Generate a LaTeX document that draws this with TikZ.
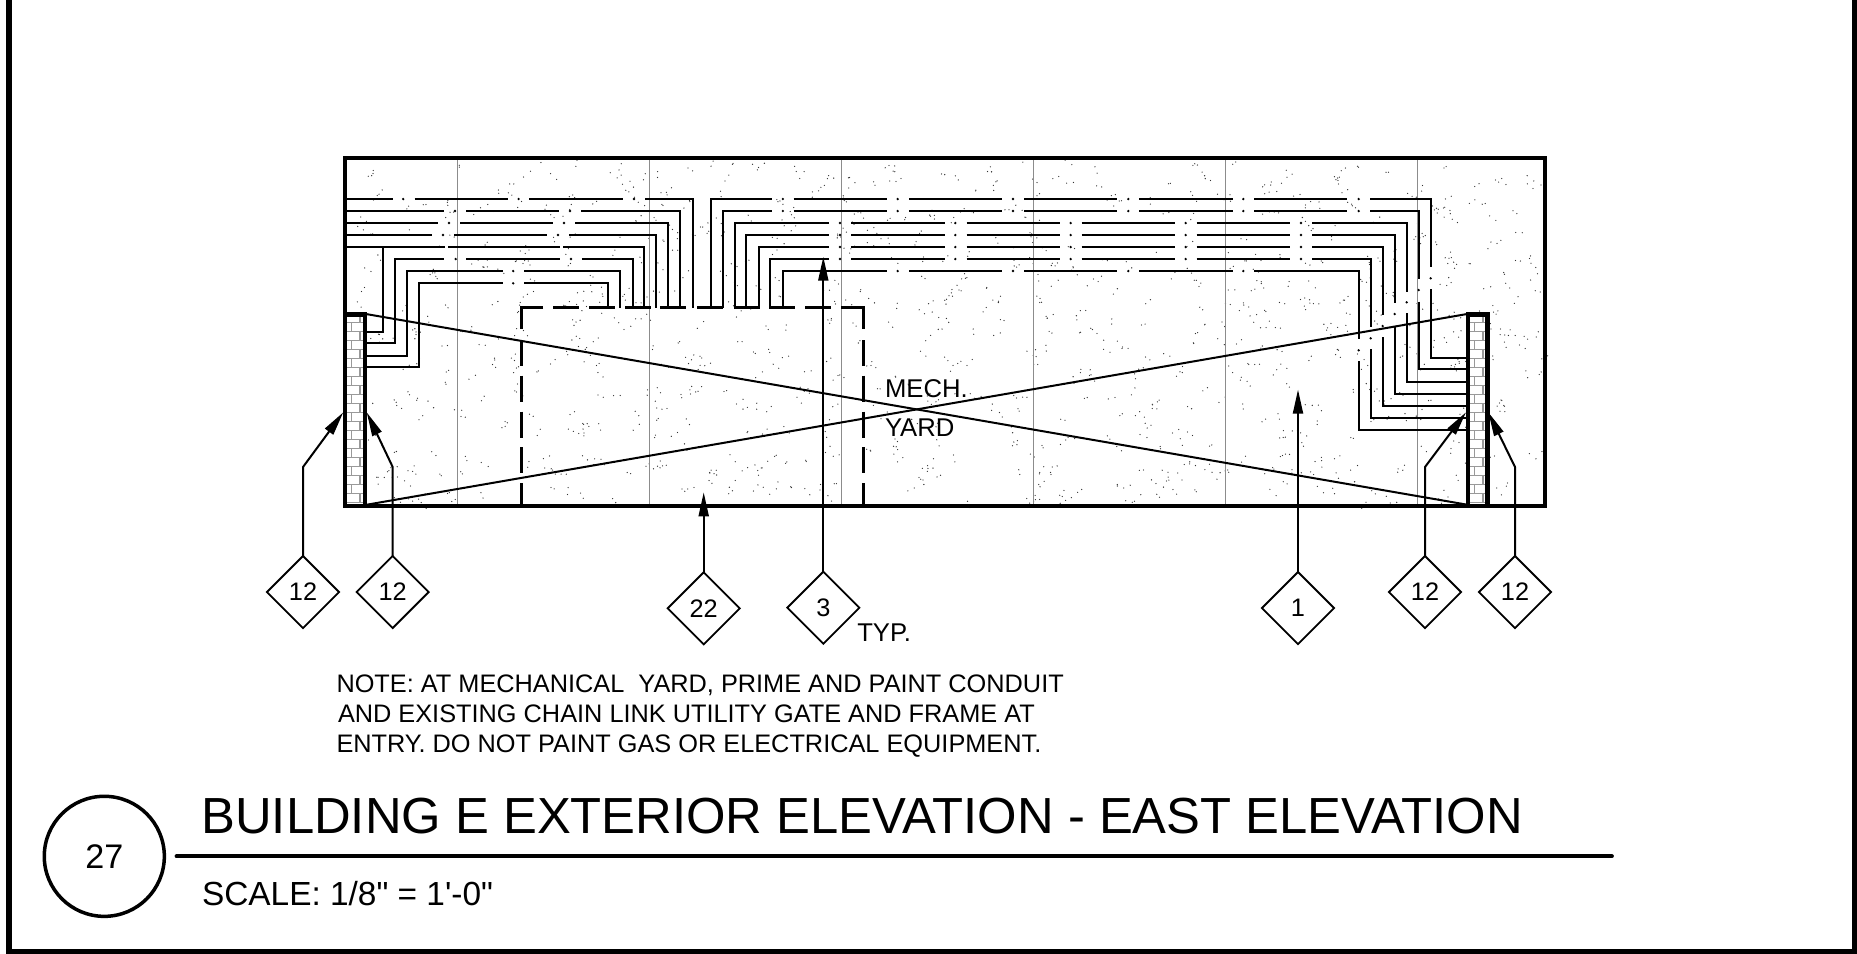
\documentclass[tikz,border=0pt]{standalone}
\usepackage{fontspec}
\setmainfont{Liberation Sans}[Ligatures=TeXOff]
\usetikzlibrary{arrows.meta}
\usetikzlibrary{shapes.geometric}
\tikzset{
  frameline/.style={line width=0.05cm},
  wallline/.style={line width=0.045cm},
  gridline/.style={line width=0.013cm,color=black!45},
  brickline/.style={line width=0.013cm,color=black!40},
  conduit/.style={line width=0.02cm},
  gateline/.style={line width=0.03cm},
  crossline/.style={line width=0.02cm},
  leader/.style={line width=0.02cm,-{Stealth[length=0.24cm,width=0.1cm,inset=0pt]}},
  tag/.style={draw,shape=diamond,aspect=1,line width=0.018cm,minimum width=0.72cm,minimum height=0.72cm,inner sep=0pt,outer sep=0pt,font=\fontsize{7.2}{8}\selectfont},
  label/.style={anchor=base west,inner sep=0pt,outer sep=0pt,font=\fontsize{7.3}{8}\selectfont},
  notetext/.style={anchor=base west,inner sep=0pt,outer sep=0pt,font=\fontsize{7.2}{8}\selectfont},
}
\begin{document}
\begin{tikzpicture}[x=0.01cm,y=-0.01cm]
  \useasboundingbox (0,0) rectangle (1857,953);

  % Drawing sheet frame, open at the top
  \draw [frameline] (9,0) -- (9,951.5) -- (1854.5,951.5) -- (1854.5,0);

  % Marking stucco speckle
  \pgfmathsetseed{2727}
  \foreach \i in {1,...,850} {
    \pgfmathsetmacro{\speckx}{350+rnd*1192}
    \pgfmathsetmacro{\specky}{162+rnd*341}
    \fill [black!80] (\speckx,\specky) circle (0.65);
    \fill [black!80] ({\speckx+14*rnd-7},{\specky+14*rnd-7}) circle (0.65);
  }

  % Drawing panel joints
  \foreach \jointx in {457.3,649.3,841.3,1033.3,1225.3,1417.3} {
    \draw [gridline] (\jointx,158) -- (\jointx,506);
  }

  % Drawing conduits from left pier to gate
  \draw [conduit] (345,199) -- (392.5,199) (414.6,199) -- (507.5,199) (529.3,199) -- (622.9,199) (645,199) -- (692.5,199) -- (692.5,307.7);
  \foreach \dotx in {403.2,518.6,634} \fill (\dotx,199) circle (1.3);
  \draw [conduit] (345,211) -- (444.3,211) (466,211) -- (559.3,211) (581,211) -- (680.4,211) -- (680.4,307.7);
  \foreach \dotx in {455,570} \fill (\dotx,211) circle (1.3);
  \draw [conduit] (345,223) -- (437.9,223) (460,223) -- (553.2,223) (575.4,223) -- (668.2,223) -- (668.2,307.7);
  \foreach \dotx in {449,564} \fill (\dotx,223) circle (1.3);
  \draw [conduit] (345,235) -- (431.8,235) (454,235) -- (547,235) (569,235) -- (656.4,235) -- (656.4,307.7);
  \foreach \dotx in {443,558} \fill (\dotx,235) circle (1.3);
  \draw [conduit] (345,247) -- (445.4,247) (448,247) -- (560.4,247) (563,247) -- (644.3,247) -- (644.3,307.7);
  \draw [conduit] (366,331.7) -- (383,331.7) -- (383,247);
  \draw [conduit] (366,343) -- (394.6,343) -- (394.6,259) -- (444.3,259) (466.4,259) -- (560.4,259) (581.8,259) -- (632.5,259) -- (632.5,307.7);
  \foreach \dotx in {455.7,571} \fill (\dotx,259) circle (1.3);
  \draw [conduit] (366,355.5) -- (407,355.5) -- (407,271) -- (502.5,271) (524,271) -- (620.4,271) -- (620.4,307.7);
  \fill (513.2,271) circle (1.3);
  \draw [conduit] (366,367) -- (418.6,367) -- (418.6,283.3) -- (502.5,283.3) (524,283.3) -- (608.2,283.3) -- (608.2,307.7);
  \fill (513.2,283.3) circle (1.3);

  % Drawing conduits from gate to right pier
  \draw [conduit] (710.7,307.7) -- (710.7,199) -- (772,199) (793.6,199) -- (887,199) (909,199) -- (1002.3,199) (1024,199) -- (1117.3,199) (1139.3,199) -- (1232.7,199) (1254.3,199) -- (1347.3,199) (1370,199) -- (1430.7,199) -- (1430.7,267.3) (1430.7,289.3) -- (1430.7,357.7) -- (1468,357.7);
  \foreach \dotx in {782.9,897.7,1013,1128.3,1243.3,1358.7} \fill (\dotx,199) circle (1.3);
  \fill (1430.7,278.3) circle (1.3);
  \draw [conduit] (722.5,307.7) -- (722.5,211) -- (772,211) (793.6,211) -- (887,211) (909,211) -- (1002.3,211) (1024,211) -- (1117.3,211) (1139.3,211) -- (1232.7,211) (1254.3,211) -- (1347.3,211) (1370,211) -- (1418.7,211) -- (1418.7,279.3) (1418.7,301.7) -- (1418.7,369.3) -- (1468,369.3);
  \foreach \dotx in {782.9,897.7,1013,1128.3,1243.3,1358.7} \fill (\dotx,211) circle (1.3);
  \fill (1418.7,290) circle (1.3);
  \draw [conduit] (734.6,307.7) -- (734.6,223) -- (829.3,223) (851,223) -- (944.7,223) (966.7,223) -- (1060,223) (1081.7,223) -- (1175,223) (1196.7,223) -- (1290,223) (1312,223) -- (1406.7,223) -- (1406.7,291.7) (1406.7,313.3) -- (1406.7,381.7) -- (1468,381.7);
  \foreach \dotx in {840,955.3,1070.7,1185.7,1301} \fill (\dotx,223) circle (1.3);
  \fill (1406.7,302.3) circle (1.3);
  \draw [conduit] (746.4,307.7) -- (746.4,235) -- (829.3,235) (851,235) -- (944.7,235) (966.7,235) -- (1060,235) (1081.7,235) -- (1175,235) (1196.7,235) -- (1290,235) (1312,235) -- (1394.7,235) -- (1394.7,303.3) (1394.7,325.7) -- (1394.7,393.7) -- (1468,393.7);
  \foreach \dotx in {840,955.3,1070.7,1185.7,1301} \fill (\dotx,235) circle (1.3);
  \fill (1394.7,314) circle (1.3);
  \draw [conduit] (758.6,307.7) -- (758.6,247) -- (829.3,247) (851,247) -- (944.7,247) (966.7,247) -- (1060,247) (1081.7,247) -- (1175,247) (1196.7,247) -- (1290,247) (1312,247) -- (1382.7,247) -- (1382.7,315) (1382.7,337.3) -- (1382.7,405.7) -- (1468,405.7);
  \foreach \dotx in {840,955.3,1070.7,1185.7,1301} \fill (\dotx,247) circle (1.3);
  \fill (1382.7,326) circle (1.3);
  \draw [conduit] (770.4,307.7) -- (770.4,259) -- (829.3,259) (851,259) -- (944.7,259) (966.7,259) -- (1060,259) (1081.7,259) -- (1175,259) (1196.7,259) -- (1290,259) (1312,259) -- (1370.7,259) -- (1370.7,327.3) (1370.7,349.3) -- (1370.7,417.7) -- (1468,417.7);
  \foreach \dotx in {840,955.3,1070.7,1185.7,1301} \fill (\dotx,259) circle (1.3);
  \fill (1370.7,338.3) circle (1.3);
  \draw [conduit] (782.9,307.7) -- (782.9,271) -- (887,271) (909,271) -- (1002.3,271) (1024,271) -- (1117.3,271) (1139.3,271) -- (1232.7,271) (1254.3,271) -- (1358.7,271) -- (1358.7,339) (1358.7,361.3) -- (1358.7,429.7) -- (1468,429.7);
  \foreach \dotx in {897.7,1013,1128.3,1243.3} \fill (\dotx,271) circle (1.3);
  \fill (1358.7,350.3) circle (1.3);

  % Drawing crossed lines
  \draw [crossline] (366,314) -- (1469,505);
  \draw [crossline] (365,505) -- (1467,314);

  % Drawing gate outline
  \draw [gateline] (543,307.7) -- (521,307.7) -- (521,329);
  \draw [gateline] (841.4,307.7) -- (863.3,307.7) -- (863.3,329);
  \foreach \gatex in {553,589,625,660,697,733.6,769,805} {
    \draw [gateline] (\gatex,307.7) -- ++(26,0);
  }
  \foreach \gatey in {340,375.5,411.5,447.3} {
    \draw [gateline] (521,\gatey) -- ++(0,26);
    \draw [gateline] (863.3,\gatey) -- ++(0,26);
  }
  \draw [gateline] (521,483.3) -- (521,506);
  \draw [gateline] (863.3,483.3) -- (863.3,506);

  % Drawing brick piers
  \foreach \pierx in {347,1470} {
    \fill [white] (\pierx,316) rectangle ++(16,189);
    \foreach \n in {0,...,20} {
      \pgfmathsetmacro{\brickx}{\pierx+(mod(\n,2)==0 ? 13 : 4.5)}
      \draw [brickline] (\pierx,{322.3+9*\n}) -- ++(16,0);
      \draw [brickline] (\brickx,{322.3+9*\n}) -- ++(0,-9);
    }
  }
  \draw [wallline] (345,506) -- (345,314.5) -- (365,314.5) -- (365,506);
  \draw [wallline] (1468,506) -- (1468,314.5) -- (1487.5,314.5) -- (1487.5,506);

  % Drawing elevation outline
  \draw [wallline] (345,158) rectangle (1545,506);

  % Marking gate label
  \node (mech) [label] at (885,397.3) {MECH.};
  \node (yard) [label] at (885,436.7) {YARD};

  % Marking callout tags
  \node (tagA) [tag] at (303,592) {12};
  \node (tagB) [tag] at (392.7,592) {12};
  \node (tagC) [tag] at (703.7,608.3) {22};
  \node (tagD) [tag] at (823.3,607.7) {3};
  \node (tagE) [tag] at (1298,608) {1};
  \node (tagF) [tag] at (1425,592) {12};
  \node (tagG) [tag] at (1515,592) {12};
  \node (typ) [label] at (857.3,641.7) {TYP.};

  % Drawing callout leaders
  \coordinate (kneeA) at (303,467);
  \coordinate (tipA) at (343.3,412.3);
  \coordinate (kneeB) at (392.7,467);
  \coordinate (tipB) at (366.7,412.3);
  \coordinate (tipC) at (703.7,492.3);
  \coordinate (tipD) at (823.3,256.7);
  \coordinate (tipE) at (1298,389.6);
  \coordinate (kneeF) at (1425,467);
  \coordinate (tipF) at (1466,412.3);
  \coordinate (kneeG) at (1515,467);
  \coordinate (tipG) at (1488.3,412.3);
  \draw [leader] (tagA.north) -- (kneeA) -- (tipA);
  \draw [leader] (tagB.north) -- (kneeB) -- (tipB);
  \draw [leader] (tagC.north) -- (tipC);
  \draw [leader] (tagD.north) -- (tipD);
  \draw [leader] (tagE.north) -- (tipE);
  \draw [leader] (tagF.north) -- (kneeF) -- (tipF);
  \draw [leader] (tagG.north) -- (kneeG) -- (tipG);

  % Marking note
  \node (noteA) [notetext] at (336.5,692.3) {NOTE: AT MECHANICAL\ \ YARD, PRIME AND PAINT CONDUIT};
  \node (noteB) [notetext] at (338,722) {AND EXISTING CHAIN LINK UTILITY GATE AND FRAME AT};
  \node (noteC) [notetext] at (336.5,752) {ENTRY. DO NOT PAINT GAS OR ELECTRICAL EQUIPMENT.};

  % Marking drawing title
  \node (badge) [draw,shape=circle,line width=0.035cm,minimum size=1.2cm,inner sep=0pt,outer sep=0pt,font=\fontsize{9.7}{11}\selectfont] at (104.3,856.3) {27};
  \coordinate (ruleend) at (1611.7,856.3);
  \coordinate (rulestart) at (176.7,856.3);
  \draw [line width=0.043cm,line cap=round] (rulestart) -- (ruleend);
  \node (title) [anchor=base west,inner sep=0pt,outer sep=0pt,font=\fontsize{14.43}{17}\selectfont] at (201.5,833) {BUILDING E EXTERIOR ELEVATION - EAST ELEVATION};
  \node (scale) [anchor=base west,inner sep=0pt,outer sep=0pt,font=\fontsize{9.5}{11}\selectfont] at (202,905) {SCALE: 1/8" = 1'-0"};
\end{tikzpicture}
\end{document}
